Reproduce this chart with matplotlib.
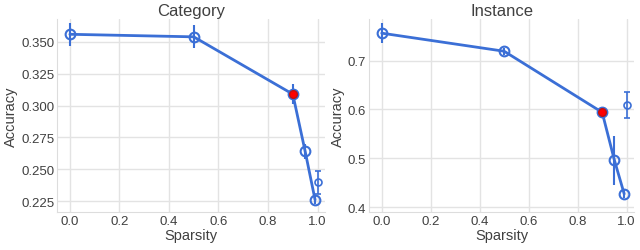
import numpy as np
import matplotlib
matplotlib.use("Agg")
import matplotlib.pyplot as plt
import seaborn as sns

sns.set_style("whitegrid")
plt.rcParams['font.family'] = ['Liberation Sans', 'DejaVu Sans']

# données
sparsity = [0.0, 0.5, 0.9, 0.95, 0.99]
cat_acc = [0.356, 0.354, 0.309, 0.264, 0.226]
cat_err = [0.009, 0.009, 0.008, 0.006, 0.003]
inst_acc = [0.756, 0.719, 0.594, 0.496, 0.427]
inst_err = [0.020, 0.007, 0.008, 0.050, 0.008]
# point isolé à sparsité 1.0
extra_x = 1.0
cat_extra, cat_extra_err = 0.240, 0.009
inst_extra, inst_extra_err = 0.609, 0.027
red_idx = 2

blue = "#3b6fd6"
text_col = "#404040"

fig = plt.figure(figsize=(6.4, 2.51), dpi=100)
ax1 = fig.add_axes([57/640, 1 - 213/251, 268/640, 193/251])
ax2 = fig.add_axes([369/640, 1 - 213/251, 265/640, 193/251])


def trace(ax, y, yerr, ye, yee, titre, ylim, yticks, fmt):
    ax.errorbar(sparsity, y, yerr=yerr, color=blue, lw=2, marker="o", ms=7,
                mfc="none", mec=blue, mew=1.5, elinewidth=1.5, capsize=0)
    ax.plot(sparsity[red_idx], y[red_idx], "o", color="red", mec="#c01010",
            ms=5.5, zorder=5)
    ax.errorbar([extra_x], [ye], yerr=[yee], color=blue, marker="o", ms=5,
                mfc="none", mec=blue, mew=1.2, elinewidth=1.2, capsize=2, lw=0)
    ax.set_xlim(-0.052, 1.03)
    ax.set_ylim(*ylim)
    ax.set_xticks(np.arange(0, 1.01, 0.2))
    ax.set_xticklabels([f"{v:.1f}" for v in np.arange(0, 1.01, 0.2)])
    ax.set_yticks(yticks)
    ax.set_yticklabels([fmt.format(v) for v in yticks])
    ax.set_title(titre, fontsize=12, color=text_col, pad=3)
    ax.set_xlabel("Sparsity", fontsize=10.5, color=text_col, labelpad=1)
    ax.set_ylabel("Accuracy", fontsize=10.5, color=text_col, labelpad=2)
    ax.tick_params(labelsize=9.5, colors=text_col, pad=2, length=0)
    for s in ["top", "right"]:
        ax.spines[s].set_visible(False)
    for s in ["left", "bottom"]:
        ax.spines[s].set_color("#dddddd")
    ax.grid(True, color="#e3e3e3", lw=1)


trace(ax1, cat_acc, cat_err, cat_extra, cat_extra_err, "Category",
      (0.2165, 0.368), [0.225, 0.25, 0.275, 0.3, 0.325, 0.35], "{:.3f}")
trace(ax2, inst_acc, inst_err, inst_extra, inst_extra_err, "Instance",
      (0.39, 0.785), [0.4, 0.5, 0.6, 0.7], "{:.1f}")

fig.savefig("out.png", dpi=100)
